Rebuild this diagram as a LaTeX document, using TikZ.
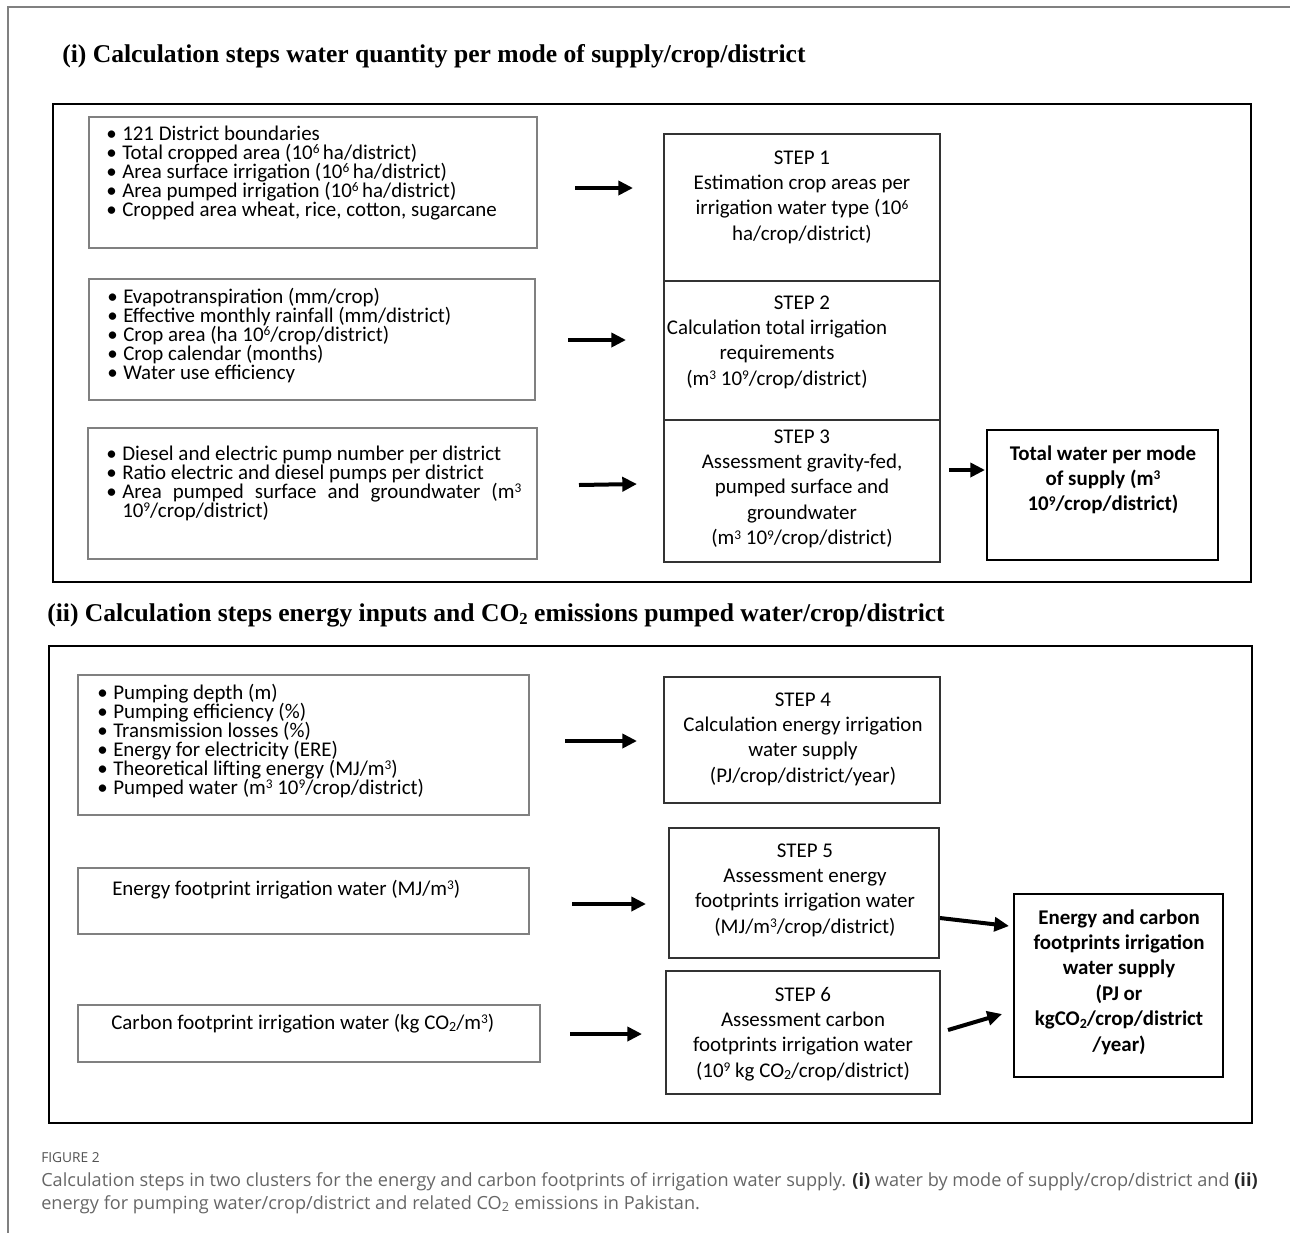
\documentclass[tikz,border=0pt]{standalone}
\usepackage{fontspec}
\setmainfont{Carlito}
\newfontfamily\titlefont{Liberation Serif}
\newfontfamily\capfont{Open Sans}
\usetikzlibrary{arrows.meta,fit}
\newdimen\px \px=0.75pt
\newcommand\bulfont{\fontsize{15.7pt}{14.25pt}\selectfont}
\newcommand\stepfont{\fontsize{15.7pt}{19.1pt}\selectfont}
\newcommand\bl{\makebox[16\px][l]{•}}
\newcommand\sps[1]{\raisebox{5.6\px}{\fontsize{10pt}{10pt}\selectfont #1}}
\newcommand\sbs[1]{\raisebox{-2.5\px}{\fontsize{10.5pt}{10pt}\selectfont #1}}
\newcommand\tsbs[1]{\raisebox{-3\px}{\fontsize{12.5pt}{12pt}\selectfont #1}}
\newcommand\tbox[2]{\parbox[t]{#1}{\lineskiplimit=-100pt\lineskip=0pt\relax #2}}
\begin{document}
\begin{tikzpicture}[x=0.75pt,y=-0.75pt,
  panel/.style={draw=black, line width=2.2pt, inner sep=0pt},
  inbox/.style={draw=black!50, line width=1.1pt, inner sep=0pt},
  stepbox/.style={draw=black!80, line width=1.1pt, inner sep=0pt},
  resbox/.style={draw=black, line width=1.6pt, inner sep=0pt},
  arr/.style={line width=3pt, -{Triangle[length=11pt,width=10.5pt]}},
  btxt/.style={inner sep=0pt, anchor=base west, font=\bulfont},
  stxt/.style={inner sep=0pt, anchor=base, font=\stepfont},
  ttl/.style={inner sep=0pt, anchor=base west, font=\titlefont\bfseries\fontsize{19.2pt}{22pt}\selectfont},
  captxt/.style={inner sep=0pt, anchor=base west, text=black!60, font=\capfont\fontsize{13.6pt}{16pt}\selectfont}]
\useasboundingbox (0,0) rectangle (1290,1233);
\draw[black!50, line width=1.1pt] (1290,7) -- (8,7) -- (8,1233);

% titles
\node[ttl] (t1) at (62,62) {(i) Calculation steps water quantity per mode of supply/crop/district};
\node[ttl] (t2) at (47,621) {(ii) Calculation steps energy inputs and CO\tsbs{2} emissions pumped water/crop/district};

% panels
\node[panel, fit={(53,104) (1251,582)}] (p1) {};
\node[panel, fit={(49,646) (1252,1123)}] (p2) {};

% input boxes
\node[inbox, fit={(89,117) (537,248)}] (a1) {};
\node[inbox, fit={(89,279) (535,400)}] (a2) {};
\node[inbox, fit={(88,428) (537,559)}] (a3) {};
\node[inbox, fit={(78,675) (529,815)}] (b1) {};
\node[inbox, fit={(78,868) (529,934)}] (b2) {};
\node[inbox, fit={(78,1005) (540,1062)}] (b3) {};

\node[btxt] (a1t) at (106,140) {\tbox{430\px}{\raggedright
\bl 121 District boundaries\\
\bl Total cropped area (10\sps{6}\,ha/district)\\
\bl Area surface irrigation (10\sps{6}\,ha/district)\\
\bl Area pumped irrigation (10\sps{6}\,ha/district)\\
\bl Cropped area wheat, rice, cotton, sugarcane}};
\node[btxt] (a2t) at (107,303) {\tbox{430\px}{\raggedright
\bl Evapotranspiration (mm/crop)\\
\bl Effective monthly rainfall (mm/district)\\
\bl Crop area (ha 10\sps{6}/crop/district)\\
\bl Crop calendar (months)\\
\bl Water use efficiency}};
\node[btxt] (a3t) at (106,460) {\tbox{430\px}{\raggedright
\bl Diesel and electric pump number per district\\
\bl Ratio electric and diesel pumps per district\\
\bl\makebox[399\px][s]{Area pumped surface and groundwater (m\sps{3}}\\
\hspace*{16\px}10\sps{9}/crop/district)}};
\node[btxt] (b1t) at (97,699) {\tbox{430\px}{\raggedright
\bl Pumping depth (m)\\
\bl Pumping efficiency (\%)\\
\bl Transmission losses (\%)\\
\bl Energy for electricity (ERE)\\
\bl Theoretical lifting energy (MJ/m\sps{3})\\
\bl Pumped water (m\sps{3} 10\sps{9}/crop/district)}};
\node[btxt] (b2t) at (112,895) {Energy footprint irrigation water (MJ/m\sps{3})};
\node[btxt] (b3t) at (111,1029) {Carbon footprint irrigation water (kg CO\sbs{2}/m\sps{3})};

% step boxes
\node[stepbox, fit={(664,134) (940,281)}] (s1) {};
\node[stepbox, fit={(664,281) (940,420)}] (s2) {};
\node[stepbox, fit={(664,420) (940,562)}] (s3) {};
\node[resbox, fit={(987,430) (1218,560)}] (tw) {};
\node[stepbox, fit={(664,677) (940,803)}] (s4) {};
\node[stepbox, fit={(669,828) (939,958)}] (s5) {};
\node[stepbox, fit={(666,971) (940,1094)}] (s6) {};
\node[resbox, fit={(1014,894) (1223,1077)}] (fin) {};

\node[stxt] (s1t) at (802,164) {\tbox{300\px}{\centering
STEP 1\\Estimation crop areas per\\irrigation water type (10\sps{6}\\ha/crop/district)}};
\node[stxt] (s2t) at (777,309) {\tbox{300\px}{\centering
\hspace*{50\px}STEP 2\\Calculation total irrigation\\requirements\\(m\sps{3} 10\sps{9}/crop/district)}};
\node[stxt] (s3t) at (802,443) {\tbox{300\px}{\centering
STEP 3\\Assessment gravity-fed,\\pumped surface and\\groundwater\\(m\sps{3} 10\sps{9}/crop/district)}};
\node[stxt] (twt) at (1103,460) {\tbox{240\px}{\centering\bfseries
Total water per mode\\of supply (m\sps{3}\\10\sps{9}/crop/district)}};
\node[stxt] (s4t) at (803,706) {\tbox{300\px}{\centering
STEP 4\\Calculation energy irrigation\\water supply\\(PJ/crop/district/year)}};
\node[stxt] (s5t) at (805,857) {\tbox{300\px}{\centering
STEP 5\\Assessment energy\\footprints irrigation water\\(MJ/m\sps{3}/crop/district)}};
\node[stxt] (s6t) at (803,1001) {\tbox{300\px}{\centering
STEP 6\\Assessment carbon\\footprints irrigation water\\(10\sps{9} kg CO\sbs{2}/crop/district)}};
\node[stxt] (fint) at (1119,924) {\tbox{240\px}{\centering\bfseries
Energy and carbon\\footprints irrigation\\water supply\\(PJ or\\kgCO\sbs{2}/crop/district\\/year)}};

% arrows
\coordinate (ar1s) at (575,188);  \coordinate (ar1e) at (633,188);
\coordinate (ar2s) at (568,340);  \coordinate (ar2e) at (626,340);
\coordinate (ar3s) at (579,485);  \coordinate (ar3e) at (637,484);
\coordinate (ar4s) at (949,470);  \coordinate (ar4e) at (985,470);
\coordinate (br1s) at (565,741);  \coordinate (br1e) at (637,741);
\coordinate (br2s) at (572,904);  \coordinate (br2e) at (646,904);
\coordinate (br3s) at (570,1034); \coordinate (br3e) at (642,1034);
\coordinate (br4s) at (940,918);  \coordinate (br4e) at (1009,926);
\coordinate (br5s) at (948,1030); \coordinate (br5e) at (1002,1014);
\draw[arr] (ar1s) -- (ar1e);
\draw[arr] (ar2s) -- (ar2e);
\draw[arr] (ar3s) -- (ar3e);
\draw[arr] (ar4s) -- (ar4e);
\draw[arr] (br1s) -- (br1e);
\draw[arr] (br2s) -- (br2e);
\draw[arr] (br3s) -- (br3e);
\draw[arr] (br4s) -- (br4e);
\draw[arr] (br5s) -- (br5e);

% caption
\node[captxt, text=black!68, font=\capfont\fontsize{10.3pt}{12pt}\selectfont] (figl) at (41,1162) {FIGURE 2};
\node[captxt] (cap1) at (41,1186) {Calculation steps in two clusters for the energy and carbon footprints of irrigation water supply. {\color{black!85}\bfseries(i)} water by mode of supply/crop/district and {\color{black!85}\bfseries(ii)}};
\node[captxt] (cap2) at (41,1209) {energy for pumping water/crop/district and related CO\textsubscript{2} emissions in Pakistan.};
\end{tikzpicture}
\end{document}
